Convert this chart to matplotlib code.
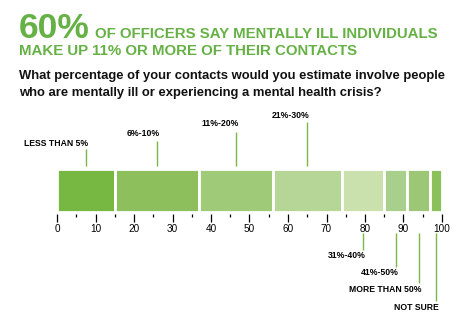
import matplotlib
matplotlib.use("Agg")
import matplotlib.pyplot as plt
import numpy as np

plt.rcParams["font.family"] = ["Liberation Sans", "DejaVu Sans"]

# survey shares (percent of officers), left to right along the bar
answers = ["LESS THAN 5%", "6%-10%", "11%-20%", "21%-30%",
           "31%-40%", "41%-50%", "MORE THAN 50%", "NOT SURE"]
shares = [15, 22, 19, 18, 11, 6, 6, 3]
tick_values = list(range(0, 101, 10))

colors = ["#77b843", "#8dc05c", "#9fca78", "#b5d696",
          "#cbe1ad", "#a9cf8c", "#9cc777", "#8bc05a"]
# label rows in pixels from the top of the image: (text centre, line start)
label_rows = [(143, 149), (133, 141), (124, 132), (115, 122),
              (255, 250), (272.5, 266.5), (290, 283), (308, 301)]
green = "#66b145"

W, H = 474, 324
fig = plt.figure(figsize=(W / 100, H / 100), dpi=100)
left, width = 57 / W, 385 / W

starts = np.concatenate([[0], np.cumsum(shares)[:-1]])
mids = starts + np.array(shares) / 2

# bar strip; axes bottom sits a few px under the bar so ticks start below it
ax = fig.add_axes([left, (H - 214) / H, width, 50 / H])
ax.set_xlim(0, 100)
ax.set_ylim(214, 164)
ax.barh(190.5, shares, left=starts, height=43.5, color=colors,
        edgecolor="white", linewidth=2.0)
for s in ["top", "left", "right", "bottom"]:
    ax.spines[s].set_visible(False)
ax.set_yticks([])
ax.set_xticks(tick_values)
ax.set_xticks(range(5, 100, 10), minor=True)
ax.tick_params(axis="x", which="major", length=5.5, width=0.9, pad=1.5,
               labelsize=7.2, color="black")
ax.tick_params(axis="x", which="minor", length=2.2, width=0.9, color="black")

# overlay in image pixels for the call-out lines and labels
ann = fig.add_axes([left, 0, width, 1])
ann.set_xlim(0, 100)
ann.set_ylim(H, 0)
ann.axis("off")
for name, x, (ty, ly) in zip(answers, mids, label_rows):
    if ty < 166:
        ann.vlines(x, ly, 166, color="#7ab648", lw=1.0)
    else:
        ann.vlines(x, 233, ly, color="#7ab648", lw=1.0)
    ann.text(x + 0.7, ty, name, ha="right", va="center", fontsize=6.2,
             fontweight="bold", color="black")

# headline and question
fig.text(19 / W, 1 - 38 / H, "60%", fontsize=25.5, fontweight="bold",
         color=green, va="baseline")
fig.text(95 / W, 1 - 38 / H, "OF OFFICERS SAY MENTALLY ILL INDIVIDUALS",
         fontsize=10.8, fontweight="bold", color=green, va="baseline")
fig.text(19 / W, 1 - 55 / H, "MAKE UP 11% OR MORE OF THEIR CONTACTS",
         fontsize=10.8, fontweight="bold", color=green, va="baseline")
fig.text(19 / W, 1 - 79 / H,
         "What percentage of your contacts would you estimate involve people",
         fontsize=9.4, fontweight="bold", color="#111111", va="baseline")
fig.text(19 / W, 1 - 96 / H,
         "who are mentally ill or experiencing a mental health crisis?",
         fontsize=9.4, fontweight="bold", color="#111111", va="baseline")

fig.savefig("out.png", dpi=100)
